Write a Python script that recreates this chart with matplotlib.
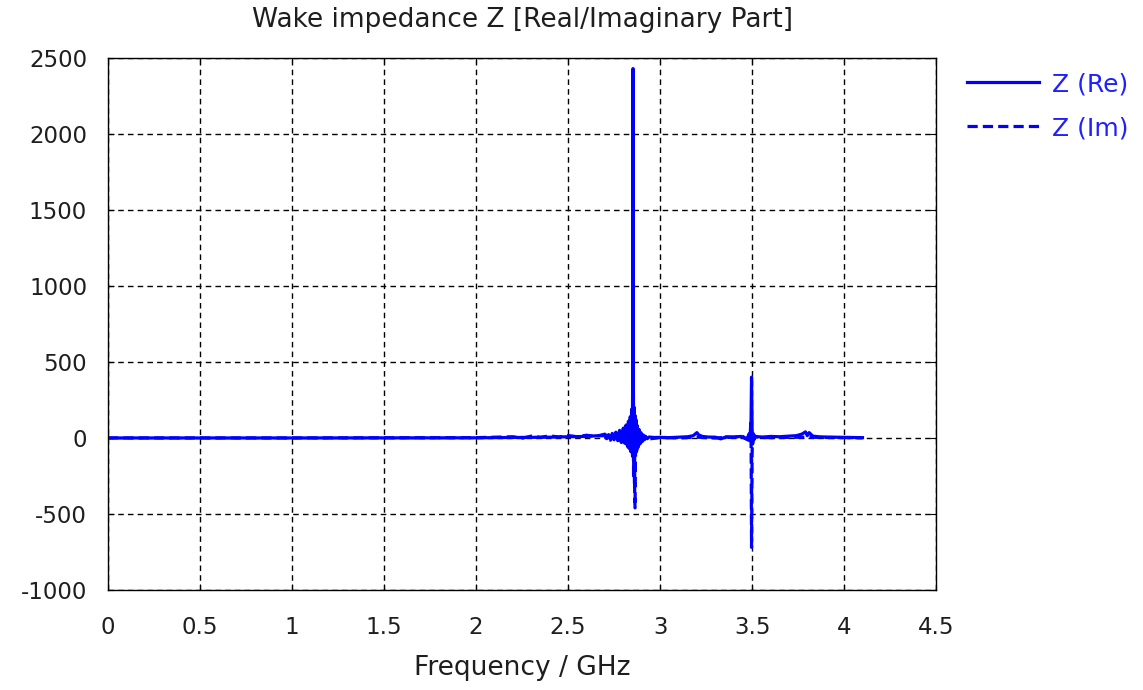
"""Wake impedance Z (real / imaginary part) versus frequency."""
import matplotlib

matplotlib.use("Agg")

import matplotlib.pyplot as plt
from matplotlib.ticker import FormatStrFormatter, FuncFormatter, MultipleLocator

BLUE = "#0000ff"
TEXT = "#1e1e1e"

# Real part (solid), frequency in GHz, impedance in Ohm
re_freq = [0.0, 1.0, 2.0, 2.2, 2.4, 2.5, 2.6, 2.65,
           2.700, 2.710, 2.720, 2.730, 2.740, 2.750, 2.760, 2.770, 2.780,
           2.790, 2.800, 2.808, 2.815, 2.822, 2.828, 2.833, 2.838, 2.842,
           2.846, 2.849, 2.851, 2.853, 2.855, 2.857, 2.859, 2.861, 2.863,
           2.866, 2.869, 2.873, 2.877, 2.881, 2.886, 2.891, 2.896, 2.902,
           2.908, 2.915, 2.922, 2.93, 2.94, 2.97, 3.0, 3.05, 3.1, 3.15, 3.18,
           3.2, 3.21, 3.23, 3.26, 3.3, 3.33, 3.36, 3.4, 3.44, 3.47, 3.48,
           3.485, 3.49, 3.494, 3.497, 3.5, 3.503, 3.508, 3.515, 3.53, 3.56,
           3.6, 3.65, 3.7, 3.74, 3.77, 3.79, 3.80, 3.81, 3.83, 3.86, 3.9,
           3.95, 4.0, 4.05, 4.1]
re_val = [0, 0, 1, 3, 5, 8, 10, 14,
          15, -5, 22, -8, 30, -12, 38, -18, 50,
          -25, 65, -35, 85, -50, 110, -70, 140, -90,
          190, -60, 380, 2430, 320, -120, 200, -300, 150,
          -110, 110, -80, 80, -60, 55, -40, 35, -25,
          20, -12, 10, -5, 6, 3, 4, 2, 5, 8, 15,
          35, 20, 10, 6, 5, -6, 8, 6, 10, -8, 15,
          30, -20, 80, 400, 60, -40, 25, 10, 8, 6,
          10, 8, 12, 15, 25, 40, 15, 35, 12, 8, 6,
          5, 4, 3, 2]

# Imaginary part (dashed)
im_freq = [0.0, 1.0, 2.0, 2.2, 2.25, 2.3, 2.35, 2.4, 2.45, 2.5, 2.55, 2.6,
           2.65, 2.7, 2.73, 2.76, 2.79, 2.81, 2.825, 2.835, 2.842, 2.847,
           2.85, 2.853, 2.856, 2.859, 2.862, 2.864, 2.866, 2.869, 2.872,
           2.876, 2.88, 2.885, 2.89, 2.9, 2.92, 2.95, 3.0, 3.1, 3.2, 3.3,
           3.4, 3.45, 3.48, 3.49, 3.494, 3.497, 3.5, 3.503, 3.508, 3.52, 3.55,
           3.6, 3.7, 3.8, 3.9, 4.0, 4.1]
im_val = [0, 0, 2, 8, -2, 12, 4, 14, 6, 16, 8, 18,
          10, 25, -15, 35, -30, 50, -60, 90, -90, 150,
          -120, 370, -250, 200, -380, -460, -150, 120, -90,
          60, -60, 40, -30, 20, 10, -5, 3, 0, 5, 0,
          5, 10, -15, 30, 120, -720, -100, 40, -15, 8, 3,
          2, 4, 5, 3, 2, 1]

plt.rcParams["font.family"] = ["DejaVu Sans"]

fig = plt.figure(figsize=(11.43, 6.90), dpi=100)
ax = fig.add_axes([0.0945, 0.145, 0.7245, 0.771])

ax.plot(re_freq, re_val, color=BLUE, linewidth=2.3, label="Z (Re)")
ax.plot(im_freq, im_val, color=BLUE, linewidth=2.3,
        linestyle=(0, (3.2, 1.6)), label="Z (Im)")

ax.set_xlim(0, 4.5)
ax.set_ylim(-1000, 2500)
ax.xaxis.set_major_locator(MultipleLocator(0.5))
ax.yaxis.set_major_locator(MultipleLocator(500))
ax.xaxis.set_major_formatter(FormatStrFormatter("%g"))
ax.yaxis.set_major_formatter(FuncFormatter(lambda v, _: f"{v:g}"))
ax.grid(True, color="black", linestyle=(0, (4, 3)), linewidth=1.0)
ax.tick_params(direction="in", length=4, top=True, right=True,
               labelsize=16.5, labelcolor=TEXT)
ax.tick_params(axis="x", pad=19)
ax.tick_params(axis="y", pad=15)
for spine in ax.spines.values():
    spine.set_linewidth(1.0)

ax.set_xlabel("Frequency / GHz", fontsize=19, color=TEXT, labelpad=11)
ax.set_title("Wake impedance Z [Real/Imaginary Part]", fontsize=19,
             color=TEXT, pad=22)

fig.legend(loc="upper left", bbox_to_anchor=(0.826, 0.928), frameon=False,
           fontsize=18, labelcolor="#2020ff", handlelength=2.9,
           labelspacing=0.8, handletextpad=0.5)

fig.savefig("out.png", dpi=100)
